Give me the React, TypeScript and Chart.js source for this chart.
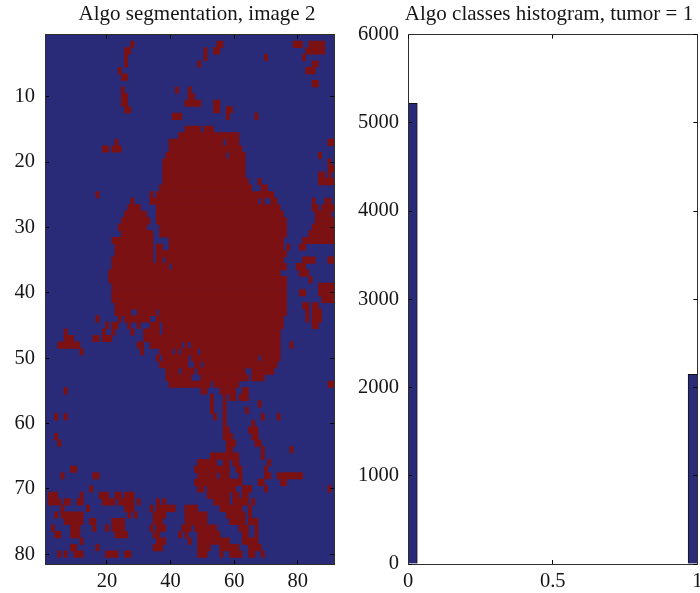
import React, { useEffect, useRef } from "react";
import { Chart, registerables } from "chart.js";

Chart.register(...registerables);

const segTitle = "Algo segmentation, image 2";
const histTitle = "Algo classes histogram, tumor = 1";
const colCount = 91;
const rowCount = 81;
const xTickValues = [20, 40, 60, 80];
const yTickValues = [10, 20, 30, 40, 50, 60, 70, 80];
const histCenters = [0, 1];
const histCounts = [5220, 2150];
const histXTicks = [0, 0.5, 1];
const histYTicks = [0, 1000, 2000, 3000, 4000, 5000, 6000];

// Tumour-class runs [firstColumn, lastColumn] for rows 1..81
const redRuns: number[][][] = [
  [],
  [[28,28],[55,56],[79,81],[84,88]],
  [[26,27],[51,51],[54,55],[83,88]],
  [[26,26],[51,51],[70,70],[82,82]],
  [[26,26],[49,49],[85,86]],
  [[24,24],[83,85]],
  [[25,26]],
  [[85,86]],
  [[25,25],[42,42],[46,46]],
  [[25,26],[46,47]],
  [[25,26],[45,49],[54,55]],
  [[26,27],[54,55],[58,59]],
  [[41,43],[58,58],[67,67]],
  [],
  [[45,49],[51,53]],
  [[43,61]],
  [[23,23],[40,56],[58,61],[90,91]],
  [[19,20],[22,24],[40,62]],
  [[39,57],[59,63],[87,87]],
  [[38,63],[90,90]],
  [[38,63],[90,91]],
  [[38,63],[87,88],[90,90]],
  [[38,64],[68,68],[87,91]],
  [[37,65],[69,70]],
  [[17,17],[34,34],[36,72]],
  [[28,28],[34,67],[69,69],[72,73],[85,85],[89,90]],
  [[27,30],[36,74],[85,86],[88,91]],
  [[26,32],[36,75],[86,90]],
  [[25,33],[36,76],[86,91]],
  [[24,32],[37,76],[85,91]],
  [[25,34],[37,76],[84,91]],
  [[22,34],[40,75],[82,91]],
  [[23,34],[36,37],[40,75],[77,77],[81,82]],
  [[23,34],[36,76]],
  [[22,34],[36,37],[39,75],[82,85],[90,91]],
  [[22,39],[41,76],[80,82]],
  [[21,74],[81,83]],
  [[21,76],[84,84]],
  [[22,76],[87,91]],
  [[22,76],[81,82],[87,91]],
  [[22,76],[88,91]],
  [[23,76],[82,83],[85,86]],
  [[23,27],[30,35],[37,76],[83,83],[85,87]],
  [[17,17],[24,24],[26,33],[36,75],[83,83],[85,87]],
  [[20,20],[22,23],[27,27],[30,30],[34,36],[38,75],[85,86]],
  [[7,7],[19,19],[22,22],[28,28],[32,36],[38,74]],
  [[7,9],[16,17],[19,21],[32,74]],
  [[5,11],[30,31],[34,43],[45,45],[47,74],[78,78]],
  [[12,12],[31,31],[37,40],[42,42],[44,48],[50,74]],
  [[36,36],[38,45],[47,67],[69,74]],
  [[37,45],[48,49],[51,73]],
  [[39,42],[44,47],[49,63],[66,72]],
  [[39,46],[50,64],[66,69]],
  [[40,52],[54,61],[90,91]],
  [[7,7],[50,51],[56,60],[63,64]],
  [[53,53],[57,57],[59,60],[62,64]],
  [[53,53],[57,57],[68,68]],
  [[53,53],[57,57],[64,64]],
  [[4,4],[7,7],[54,54],[57,57],[69,69],[74,74]],
  [[57,57],[66,66]],
  [[57,58],[65,67]],
  [[4,4],[57,59],[66,67]],
  [[5,5],[58,60],[67,68]],
  [[58,59],[69,69],[78,78]],
  [[53,61],[69,69]],
  [[49,54],[57,58],[60,61],[71,71]],
  [[9,10],[48,58],[61,62],[70,70]],
  [[6,6],[16,17],[49,54],[56,58],[62,62],[70,71],[74,81]],
  [[48,62],[68,69],[75,76]],
  [[15,15],[49,50],[52,60],[63,65],[70,70],[90,90]],
  [[2,4],[12,12],[18,20],[23,24],[26,28],[52,58],[60,61],[63,64]],
  [[2,5],[7,8],[11,12],[19,22],[24,28],[30,30],[36,36],[38,38],[54,58],[60,64],[66,66]],
  [[6,6],[14,14],[26,28],[34,34],[36,41],[45,48],[56,62],[65,65]],
  [[4,4],[6,12],[27,27],[29,29],[35,38],[45,51],[58,63],[65,65]],
  [[7,12],[15,16],[22,25],[35,37],[45,51],[59,63],[65,67]],
  [[3,3],[9,11],[16,16],[20,20],[22,25],[34,34],[36,38],[44,46],[48,54],[62,64],[67,67]],
  [[4,5],[9,11],[23,26],[35,36],[43,43],[45,45],[49,55],[63,64],[67,67]],
  [[12,12],[36,38],[46,46],[49,58],[63,67]],
  [[9,10],[17,17],[35,37],[49,52],[56,61],[65,68]],
  [[5,5],[7,7],[10,12],[20,23],[26,27],[49,51],[56,56],[59,62],[65,66],[69,69]],
  [],
];

const BLUE = "#2a2b78";
const RED = "#7c1113";
const INK = "#151515";
const LINE = "#2e2e2e";
const FONT = "'Liberation Serif'";
const tickFont = { family: FONT, size: 20.5 };

const sideAxis = (extra: any, size: number, isX: boolean) => ({
  offset: false,
  grid: { offset: false, drawOnChartArea: false, drawTicks: true, tickLength: -4, tickColor: "#000", z: 1 },
  border: { display: true, color: LINE, width: 1, z: 1 },
  afterFit: (s: any) => {
    if (isX) s.height = size; else s.width = size;
    s.paddingLeft = 0; s.paddingRight = 0; s.paddingTop = 0; s.paddingBottom = 0;
  },
  ...extra,
});

const withTicks = (values: number[]) => (s: any) => {
  s.ticks = values.map((value) => ({ value }));
};

// Closes the hairline gaps that fractional row edges leave in the background class.
const plotBacking = {
  id: "plotBacking",
  beforeDatasetsDraw(chart: any) {
    const { ctx, chartArea: a } = chart;
    ctx.save();
    ctx.fillStyle = BLUE;
    ctx.fillRect(a.left, a.top, a.right - a.left, a.bottom - a.top);
    ctx.restore();
  },
};

function segmentationDatasets() {
  const rows = redRuns.map((_, i) => i + 1);
  const sets: any[] = [];
  const deepest = Math.max(...redRuns.map((r) => r.length));
  for (let k = 0; k < deepest; k++) {
    sets.push({
      data: redRuns.flatMap((runs, i) =>
        runs[k] ? [{ x: [runs[k][0] - 0.5, runs[k][1] + 0.5], y: i + 1 }] : []
      ),
      backgroundColor: RED,
      grouped: false,
      barPercentage: 1,
      categoryPercentage: 1,
    });
  }
  // Chart.js paints the last dataset first, so the background class goes last.
  sets.push({
    data: rows.map((y) => ({ x: [0.5, colCount + 0.5], y })),
    backgroundColor: BLUE,
    grouped: false,
    barPercentage: 1,
    categoryPercentage: 1,
  });
  return sets;
}

const titleOptions = (text: string) => ({
  display: true,
  text,
  fullSize: true,
  color: INK,
  font: { family: FONT, size: 21, weight: "normal" as const, lineHeight: 1.2 },
  padding: { top: 1.5, bottom: 7.9 },
});

export default function App() {
  const leftRef = useRef<HTMLCanvasElement>(null);
  const rightRef = useRef<HTMLCanvasElement>(null);

  useEffect(() => {
    const left = new Chart(leftRef.current!, {
      type: "bar",
      data: { datasets: segmentationDatasets() },
      plugins: [plotBacking],
      options: {
        indexAxis: "y",
        animation: false,
        responsive: false,
        plugins: { legend: { display: false }, tooltip: { enabled: false }, title: titleOptions(segTitle) },
        scales: {
          x: sideAxis({
            type: "linear", position: "bottom", min: 0.5, max: colCount + 0.5,
            afterBuildTicks: withTicks(xTickValues),
            ticks: { color: INK, font: tickFont, padding: 9.5, maxRotation: 0, autoSkip: false },
          }, 29, true),
          y: sideAxis({
            type: "linear", position: "left", reverse: true, min: 0.5, max: rowCount + 0.5,
            afterBuildTicks: withTicks(yTickValues),
            ticks: { color: INK, font: tickFont, padding: 14, autoSkip: false },
          }, 45, false),
          x2: sideAxis({
            type: "linear", position: "top", min: 0.5, max: colCount + 0.5,
            afterBuildTicks: withTicks(xTickValues), ticks: { display: false },
          }, 0, true),
          y2: sideAxis({
            type: "linear", position: "right", reverse: true, min: 0.5, max: rowCount + 0.5,
            afterBuildTicks: withTicks(yTickValues), ticks: { display: false },
          }, 59.7, false),
        },
      } as any,
    });

    const right = new Chart(rightRef.current!, {
      type: "bar",
      data: {
        datasets: [
          {
            data: histCenters.map((x, i) => ({ x, y: histCounts[i] })),
            backgroundColor: BLUE,
            borderColor: "#111",
            borderWidth: 1,
            barThickness: 18.6,
          },
        ],
      },
      options: {
        animation: false,
        responsive: false,
        plugins: { legend: { display: false }, tooltip: { enabled: false }, title: titleOptions(histTitle) },
        scales: {
          x: sideAxis({
            type: "linear", position: "bottom", min: 0, max: 1,
            afterBuildTicks: withTicks(histXTicks),
            ticks: { color: INK, font: tickFont, padding: 9.5, maxRotation: 0, autoSkip: false, callback: (v: number) => String(v) },
          }, 29, true),
          y: sideAxis({
            type: "linear", position: "left", min: 0, max: 6000,
            afterBuildTicks: withTicks(histYTicks),
            ticks: { color: INK, font: tickFont, padding: 13, autoSkip: false, callback: (v: number) => String(v) },
          }, 60, false),
          x2: sideAxis({
            type: "linear", position: "top", min: 0, max: 1,
            afterBuildTicks: withTicks(histXTicks), ticks: { display: false },
          }, 0, true),
          y2: sideAxis({
            type: "linear", position: "right", min: 0, max: 6000,
            afterBuildTicks: withTicks(histYTicks), ticks: { display: false },
          }, 52.6, false),
        },
      } as any,
    });

    return () => {
      left.destroy();
      right.destroy();
    };
  }, []);

  return (
    <div style={{ position: "fixed", left: 0, top: 0, width: 700, height: 593, overflow: "hidden", background: "#fff" }}>
      <canvas ref={leftRef} width={394} height={593} style={{ position: "absolute", left: 0, top: 0 }} />
      <canvas ref={rightRef} width={402} height={593} style={{ position: "absolute", left: 348, top: 0 }} />
    </div>
  );
}
